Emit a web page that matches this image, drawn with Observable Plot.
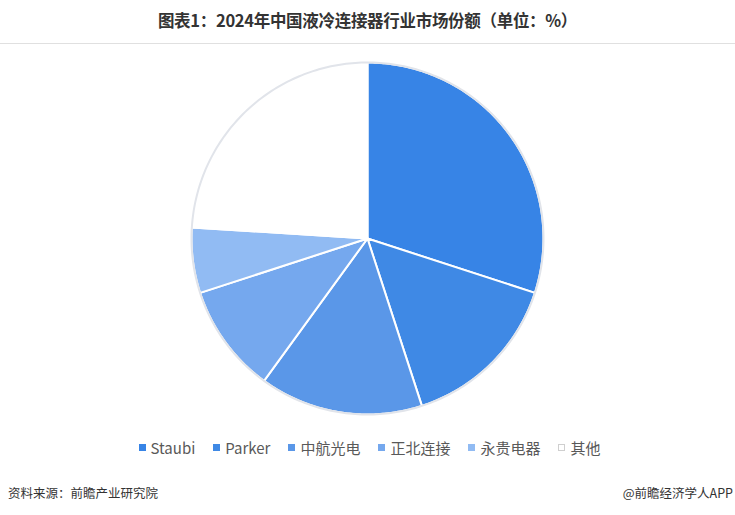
<!DOCTYPE html>
<html><head><meta charset="utf-8">
<script src="https://cdn.jsdelivr.net/npm/d3@7"></script>
<script src="https://cdn.jsdelivr.net/npm/@observablehq/plot@0.6"></script>
<style>
body{margin:0;background:#fff;width:735px;font-family:"Noto Sans CJK SC","Noto Sans",sans-serif;}
#title{height:43px;line-height:40px;text-align:center;font-weight:bold;font-size:16.5px;color:#333;border-bottom:1px solid #e0e0e0;letter-spacing:-0.3px;}
#chart{height:388px;}
#legend{height:30px;display:flex;justify-content:center;align-items:center;font-size:15px;color:#595959;padding-left:4px;}
.item{display:flex;align-items:center;margin:0 9px;}
.sw{width:7px;height:7px;margin-right:5px;box-sizing:border-box;}
#footer{margin-top:22px;height:18px;line-height:18px;display:flex;justify-content:space-between;font-size:12.5px;color:#333;padding:0 2px 0 8px;}
</style></head><body>
<div id="title">图表1：2024年中国液冷连接器行业市场份额（单位：%）</div>
<div id="chart"></div>
<div id="legend"></div>
<div id="footer"><span>资料来源：前瞻产业研究院</span><span>@前瞻经济学人APP</span></div>
<script>
const companies = ["Staubi","Parker","中航光电","正北连接","永贵电器","其他"];
const shares = [30,15,15,10,6,24];
const colors = ["#3784e6","#3f89e5","#5a97e8","#75a8ee","#91bbf3","#ffffff"];

const arcs = d3.pie().sort(null).value(d=>d.share)(companies.map((name,i)=>({name,share:shares[i],color:colors[i]})));
function slicePoints(a){
  const p=[{x:0,y:0}];
  const n=Math.max(2,Math.ceil((a.endAngle-a.startAngle)/0.01));
  for(let k=0;k<=n;k++){const t=a.startAngle+(a.endAngle-a.startAngle)*k/n;p.push({x:Math.sin(t),y:Math.cos(t)});}
  p.push({x:0,y:0});
  return p;
}
const circle=d3.range(0,361).map(k=>({x:Math.sin(k*Math.PI/180),y:Math.cos(k*Math.PI/180)}));
const marks = arcs.map(a=>Plot.line(slicePoints(a),{x:"x",y:"y",fill:a.data.color,stroke:"#ffffff",strokeWidth:2,strokeLinejoin:"round"}));
marks.push(Plot.line(circle,{x:"x",y:"y",stroke:"#e1e4ea",strokeWidth:2,fill:"none"}));
const chart = Plot.plot({
  width:735,height:388,marginLeft:191,marginRight:192,marginTop:18,marginBottom:18,
  x:{domain:[-1,1],axis:null},y:{domain:[-1,1],axis:null},
  marks
});
document.getElementById("chart").appendChild(chart);

const legend=document.getElementById("legend");
companies.forEach((name,i)=>{
  const it=document.createElement("div");it.className="item";
  const sw=document.createElement("span");sw.className="sw";sw.style.background=colors[i];
  if(colors[i]==="#ffffff")sw.style.border="1px solid #cfcfcf";
  const tx=document.createElement("span");tx.textContent=name;
  it.appendChild(sw);it.appendChild(tx);legend.appendChild(it);
});
</script>
</body></html>
